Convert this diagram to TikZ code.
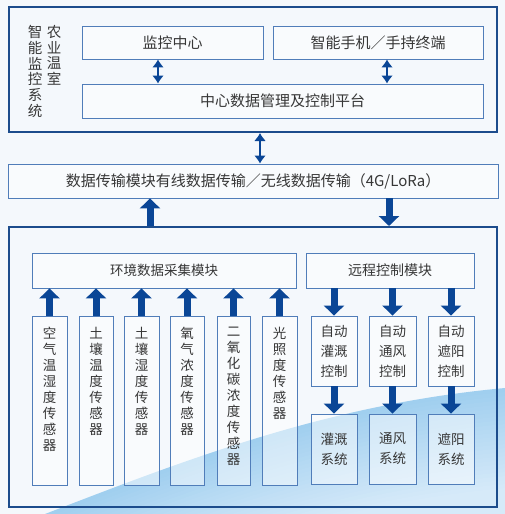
\documentclass[tikz,border=0pt]{standalone}
\usepackage{fontspec}
\setmainfont{Noto Sans CJK SC}
\usetikzlibrary{arrows.meta}

\definecolor{pagebg}{RGB}{244,248,252}
\definecolor{frameblue}{RGB}{28,76,140}
\definecolor{boxblue}{RGB}{80,125,185}
\definecolor{arrowblue}{RGB}{10,70,150}
\definecolor{wavetop}{RGB}{160,207,239}
\definecolor{wavebot}{RGB}{214,234,249}
\definecolor{txtgray}{RGB}{55,55,55}

\tikzset{
  frame/.style={draw=frameblue, line width=2pt},
  box/.style={draw=boxblue, line width=0.9pt, fill=white, fill opacity=0.5,
    text opacity=1, text=txtgray, inner sep=0pt, font=\fontsize{13.5}{16}\selectfont},
  vtext/.style={text=txtgray, align=center, inner sep=0pt,
    font=\fontsize{13.5}{16}\selectfont},
  thin arrow/.style={{Latex[length=8pt,width=12pt]}-{Latex[length=8pt,width=12pt]},
    draw=arrowblue, line width=2.8pt},
  fat arrow/.style={-{Triangle[length=10pt,width=20pt]}, draw=arrowblue,
    line width=7pt}
}

\begin{document}
\begin{tikzpicture}[x=1pt,y=-1pt]
    % Page and background wave, lighter the further from its edge
    \useasboundingbox (0,0) rectangle (505,514);
    \fill [pagebg] (0,0) rectangle (505,514);
    \begin{scope}
      \clip (45,514) .. controls (190,458) and (330,404) .. (505,388)
        -- (505,514) -- cycle;
      \foreach \d in {0,4,...,100} {
        \pgfmathtruncatemacro\mix{100-\d}
        \fill [wavetop!\mix!wavebot]
          (45,514+\d) .. controls (190,458+\d) and (330,404+\d) .. (505,388+\d)
          -- (505,620) -- (0,620) -- cycle;
      }
    \end{scope}

    % Upper frame: monitoring system
    \node [frame, minimum width=488, minimum height=125] (system) at (253,69.5) {};
    \node [vtext, anchor=north, font=\fontsize{14.5}{15.8}\selectfont] (title right) at (54,25) {农\\业\\温\\室};
    \node [vtext, anchor=north, font=\fontsize{14.5}{15.8}\selectfont] (title left) at (35,25) {智\\能\\监\\控\\系\\统};
    \node [box, minimum width=181, minimum height=33, font=\fontsize{15}{16}\selectfont] (monitor) at (172.5,42.5) {监控中心};
    \node [box, minimum width=210, minimum height=33, font=\fontsize{15}{16}\selectfont] (phone) at (378,42.5) {智能手机／手持终端};
    \node [box, minimum width=401, minimum height=34, font=\fontsize{15}{16}\selectfont] (platform) at (282.5,101) {中心数据管理及控制平台};

    \draw [thin arrow] ([xshift=-14.5]monitor.south) -- ([xshift=-14.5]monitor.south |- platform.north);
    \draw [thin arrow] ([xshift=9]phone.south) -- ([xshift=9]phone.south |- platform.north);

    % Transmission module
    \node [box, minimum width=490, minimum height=34, font=\fontsize{15}{16}\selectfont] (transfer) at (253,181)
      {数据传输模块有线数据传输／无线数据传输（4G/LoRa）};
    \draw [thin arrow] ([xshift=7]system.south) -- ([xshift=7]transfer.north);

    % Lower frame: acquisition and control
    \node [frame, minimum width=488, minimum height=280] (field) at (253,367) {};
    \draw [fat arrow] ([xshift=-103]field.north) -- ([xshift=-103]transfer.south);
    \draw [fat arrow] ([xshift=136]transfer.south) -- ([xshift=136]field.north);

    \node [box, minimum width=264, minimum height=35] (collect) at (164,270.5) {环境数据采集模块};
    \node [box, minimum width=168, minimum height=35, font=\fontsize{14}{16}\selectfont] (remote) at (390,270.5) {远程控制模块};

    % Sensors
    \node [box, minimum width=35, minimum height=169] (air) at (49.5,400.5) {};
    \node [box, minimum width=34, minimum height=169] (soil temp) at (96,400.5) {};
    \node [box, minimum width=35, minimum height=169] (soil hum) at (141.5,400.5) {};
    \node [box, minimum width=34, minimum height=169] (oxygen) at (187,400.5) {};
    \node [box, minimum width=33, minimum height=169] (carbon) at (233.5,400.5) {};
    \node [box, minimum width=35, minimum height=169] (light) at (279.5,400.5) {};

    \node [vtext, anchor=north] at ([yshift=-11]air.north) {空\\气\\温\\湿\\度\\传\\感\\器};
    \node [vtext, anchor=north] at ([yshift=-11]soil temp.north) {土\\壤\\温\\度\\传\\感\\器};
    \node [vtext, anchor=north] at ([yshift=-11]soil hum.north) {土\\壤\\湿\\度\\传\\感\\器};
    \node [vtext, anchor=north] at ([yshift=-11]oxygen.north) {氧\\气\\浓\\度\\传\\感\\器};
    \node [vtext, anchor=north] at ([yshift=-11]carbon.north) {二\\氧\\化\\碳\\浓\\度\\传\\感\\器};
    \node [vtext, anchor=north] at ([yshift=-11]light.north) {光\\照\\度\\传\\感\\器};

    \draw [fat arrow] (air.north) -- (air.north |- collect.south);
    \draw [fat arrow] (soil temp.north) -- (soil temp.north |- collect.south);
    \draw [fat arrow] (soil hum.north) -- (soil hum.north |- collect.south);
    \draw [fat arrow] (oxygen.north) -- (oxygen.north |- collect.south);
    \draw [fat arrow] (carbon.north) -- (carbon.north |- collect.south);
    \draw [fat arrow] (light.north) -- (light.north |- collect.south);

    % Control units and the systems they drive
    \node [box, minimum width=46, minimum height=70, align=center, font=\fontsize{13.5}{20}\selectfont] (irr ctl) at (334,351) {自动\\灌溉\\控制};
    \node [box, minimum width=47, minimum height=70, align=center, font=\fontsize{13.5}{20}\selectfont] (vent ctl) at (392.5,351) {自动\\通风\\控制};
    \node [box, minimum width=46, minimum height=70, align=center, font=\fontsize{13.5}{20}\selectfont] (shade ctl) at (451,351) {自动\\遮阳\\控制};

    \node [box, minimum width=46, minimum height=70, align=center, font=\fontsize{13.5}{20}\selectfont] (irr sys) at (334,449) {灌溉\\系统};
    \node [box, minimum width=47, minimum height=70, align=center, font=\fontsize{13.5}{20}\selectfont] (vent sys) at (392.5,449) {通风\\系统};
    \node [box, minimum width=46, minimum height=70, align=center, font=\fontsize{13.5}{20}\selectfont] (shade sys) at (451,449) {遮阳\\系统};

    \draw [fat arrow] (remote.south -| irr ctl.north) -- (irr ctl.north);
    \draw [fat arrow] (remote.south -| vent ctl.north) -- (vent ctl.north);
    \draw [fat arrow] (remote.south -| shade ctl.north) -- (shade ctl.north);
    \draw [fat arrow] (irr ctl.south) -- (irr sys.north);
    \draw [fat arrow] (vent ctl.south) -- (vent sys.north);
    \draw [fat arrow] (shade ctl.south) -- (shade sys.north);
\end{tikzpicture}
\end{document}
